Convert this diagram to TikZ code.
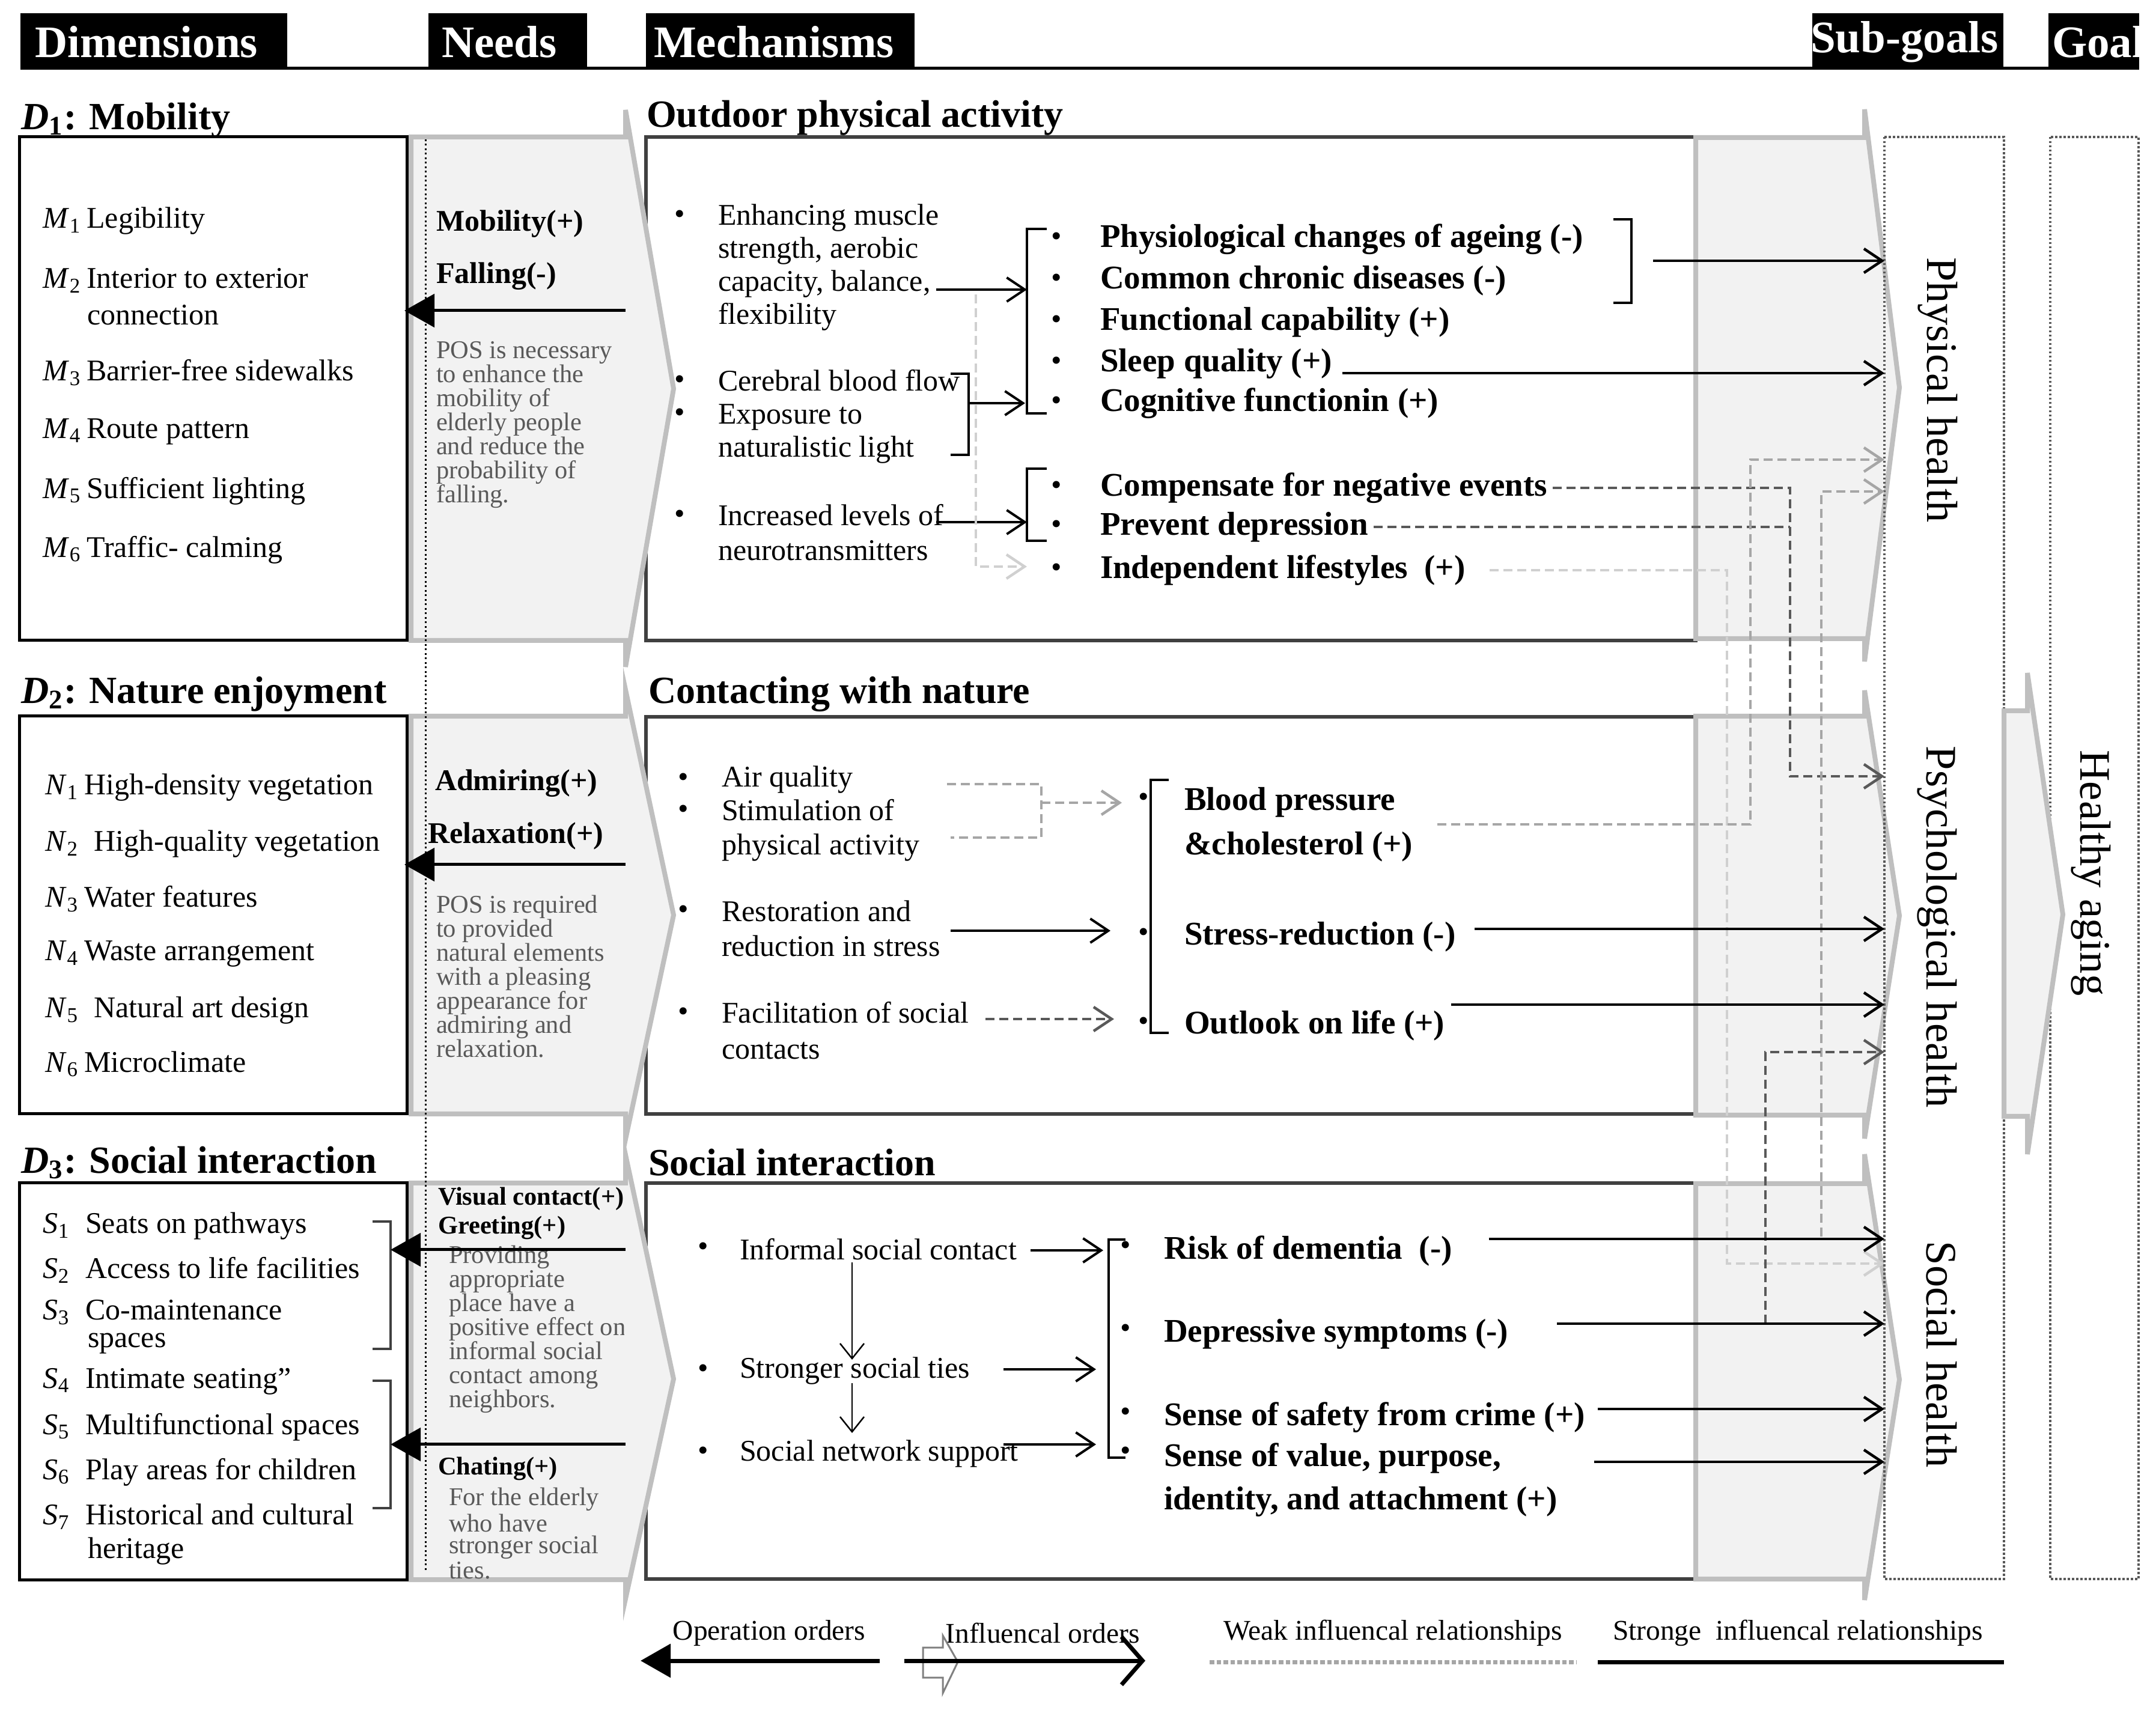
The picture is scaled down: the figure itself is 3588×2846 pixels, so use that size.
\documentclass[tikz,border=0pt]{standalone}
\usepackage{fontspec}
\setmainfont{Liberation Serif}
\usetikzlibrary{arrows.meta}
\definecolor{chevfill}{HTML}{F2F2F2}
\definecolor{chevline}{HTML}{BFBFBF}
\definecolor{boxline}{HTML}{404040}
\definecolor{darkd}{HTML}{595959}
\definecolor{medd}{HTML}{A6A6A6}
\definecolor{lightd}{HTML}{D0D0D0}
\definecolor{needtxt}{HTML}{595959}
\tikzset{
 T/.style={inner sep=0pt, anchor=west},
 dimtxt/.style={T, font=\fontsize{10}{12}\selectfont},
 ttl/.style={T, font=\fontsize{12.8}{14}\selectfont\bfseries},
 hdr/.style={T, font=\fontsize{15}{17}\selectfont\bfseries, text=white},
 needlbl/.style={T, font=\fontsize{10}{12}\selectfont\bfseries},
 needsm/.style={T, font=\fontsize{8.5}{10}\selectfont\bfseries},
 needgray/.style={inner sep=0pt, anchor=north west, align=left, text=needtxt, font=\fontsize{8.5}{8}\selectfont},
 mech/.style={inner sep=0pt, anchor=north west, align=left, font=\fontsize{10}{11}\selectfont},
 mtxt/.style={T, font=\fontsize{10}{12}\selectfont},
 outc/.style={T, font=\fontsize{11}{13}\selectfont\bfseries},
 bul/.style={inner sep=0pt, anchor=center, font=\fontsize{10}{12}\selectfont},
 vert/.style={inner sep=0pt, rotate=-90, font=\fontsize{14.5}{16}\selectfont},
 legtxt/.style={inner sep=0pt, font=\fontsize{9.5}{11}\selectfont},
 dbox/.style={draw=black, line width=1pt},
 mbox/.style={draw=boxline, line width=1.1pt},
 chev/.style={fill=chevfill, draw=chevline, line width=1.6pt, line join=miter},
 dotbox/.style={draw=darkd, line width=0.7pt, dash pattern=on 0.7pt off 0.7pt},
 opar/.style={line width=1pt, -{Triangle[length=10pt,width=11pt]}},
 barb/.style={-{Straight Barb[length=6pt,width=8pt]}},
 conn/.style={line width=0.9pt, barb},
 inar/.style={line width=0.8pt, barb},
 thinar/.style={line width=0.5pt, -{Straight Barb[length=5pt,width=8pt]}},
 wdark/.style={draw=darkd, line width=0.9pt, dash pattern=on 3pt off 1.6pt},
 wmed/.style={draw=medd, line width=0.9pt, dash pattern=on 3pt off 1.6pt},
 wlight/.style={draw=lightd, line width=0.9pt, dash pattern=on 3pt off 1.6pt},
 brk/.style={line width=0.9pt},
}
\begin{document}
\begin{tikzpicture}[x=0.2pt,y=-0.2pt]
\useasboundingbox[fill=white] (0,0) rectangle (3588,2846);

% ---------- header ----------
\fill (34,22) rectangle (478,113);
\fill (713,22) rectangle (977,113);
\fill (1075,22) rectangle (1522,113);
\fill (3016,22) rectangle (3334,113);
\fill (3409,22) rectangle (3560,113);
\draw[line width=1pt] (34,114) -- (3560,114);
\node[hdr] (hDim) at (57,70) {Dimensions};
\node[hdr] (hNeed) at (734,70) {Needs};
\node[hdr] (hMech) at (1087,70) {Mechanisms};
\node[hdr] (hSub) at (3012,70) {Sub-goals};
\node[hdr] (hGoal) at (3414,70) {Goal};

% ---------- mechanism boxes ----------
\draw[mbox] (1075,228) rectangle (2822,1066);
\draw[mbox] (1075,1193) rectangle (2822,1854);
\draw[mbox] (1075,1969) rectangle (2822,2628);

% ---------- needs chevrons ----------
\draw[chev] (684,228) -- (1041,228) -- (1041,183) -- (1121,647) -- (1041,1110) -- (1041,1066) -- (684,1066) -- cycle;
\draw[chev] (684,1192) -- (1041,1192) -- (1041,1148) -- (1121,1523) -- (1041,1896) -- (1041,1854) -- (684,1854) -- cycle;
\draw[chev] (684,1969) -- (1041,1969) -- (1041,1922) -- (1121,2295) -- (1041,2661) -- (1041,2629) -- (684,2629) -- cycle;

% ---------- dimension boxes ----------
\draw[dbox] (32,228) rectangle (677,1066);
\draw[dbox] (32,1192) rectangle (677,1854);
\draw[dbox] (32,1969) rectangle (677,2629);

% ---------- sub-goal chevrons ----------
\draw[chev] (2822,229) -- (3103,229) -- (3103,182) -- (3161,645) -- (3103,1101) -- (3103,1063) -- (2822,1063) -- cycle;
\draw[chev] (2822,1192) -- (3103,1192) -- (3103,1149) -- (3161,1524) -- (3103,1895) -- (3103,1856) -- (2822,1856) -- cycle;
\draw[chev] (2822,1970) -- (3103,1970) -- (3103,1921) -- (3161,2296) -- (3103,2663) -- (3103,2628) -- (2822,2628) -- cycle;

% ---------- dotted boxes and goal chevron ----------
\draw[dotbox] (3136,228) rectangle (3335,2628);
\draw[dotbox] (3412,228) rectangle (3559,2628);
\draw[chev] (3335,1183) -- (3374,1183) -- (3374,1120) -- (3433,1522) -- (3374,1921) -- (3374,1858) -- (3335,1858) -- cycle;
\draw[draw=black, line width=0.6pt, dash pattern=on 0.6pt off 0.9pt] (708,232) -- (708,2617);

% ---------- titles ----------
\node[ttl] (d1t) at (34,200) {\textit{D}\textsubscript{1}: Mobility};
\node[ttl] (m1t) at (1075,196) {Outdoor physical activity};
\node[ttl] (d2t) at (34,1155) {\textit{D}\textsubscript{2}: Nature enjoyment};
\node[ttl] (m2t) at (1078,1155) {Contacting with nature};
\node[ttl] (d3t) at (34,1935) {\textit{D}\textsubscript{3}: Social interaction};
\node[ttl] (m3t) at (1078,1935) {Social interaction};

% ---------- dimension items ----------
\node[dimtxt] (dm1) at (71,368) {\textit{M}\textsubscript{1}\,Legibility};
\node[dimtxt] (dm2) at (71,467) {\textit{M}\textsubscript{2}\,Interior to exterior};
\node[dimtxt] (dm2b) at (144,524) {connection};
\node[dimtxt] (dm3) at (71,620) {\textit{M}\textsubscript{3}\,Barrier-free sidewalks};
\node[dimtxt] (dm4) at (71,718) {\textit{M}\textsubscript{4}\,Route pattern};
\node[dimtxt] (dm5) at (71,817) {\textit{M}\textsubscript{5}\,Sufficient lighting};
\node[dimtxt] (dm6) at (71,915) {\textit{M}\textsubscript{6}\,Traffic- calming};

\node[dimtxt] (dn1) at (75,1311) {\textit{N}\textsubscript{1}\,High-density vegetation};
\node[dimtxt] (dn2) at (75,1405) {\textit{N}\textsubscript{2}\enspace High-quality vegetation};
\node[dimtxt] (dn3) at (75,1496) {\textit{N}\textsubscript{3}\,Water features};
\node[dimtxt] (dn4) at (75,1588) {\textit{N}\textsubscript{4}\,Waste arrangement};
\node[dimtxt] (dn5) at (75,1682) {\textit{N}\textsubscript{5}\enspace Natural art design};
\node[dimtxt] (dn6) at (75,1771) {\textit{N}\textsubscript{6}\,Microclimate};

\node[dimtxt] (ds1) at (71,2041) {\textit{S}\textsubscript{1}\enspace Seats on pathways};
\node[dimtxt] (ds2) at (71,2114) {\textit{S}\textsubscript{2}\enspace Access to life facilities};
\node[dimtxt] (ds3) at (71,2184) {\textit{S}\textsubscript{3}\enspace Co-maintenance};
\node[dimtxt] (ds3b) at (145,2236) {spaces};
\node[dimtxt] (ds4) at (71,2299) {\textit{S}\textsubscript{4}\enspace Intimate seating''};
\node[dimtxt] (ds5) at (71,2375) {\textit{S}\textsubscript{5}\enspace Multifunctional spaces};
\node[dimtxt] (ds6) at (71,2450) {\textit{S}\textsubscript{6}\enspace Play areas for children};
\node[dimtxt] (ds7) at (71,2524) {\textit{S}\textsubscript{7}\enspace Historical and cultural};
\node[dimtxt] (ds7b) at (145,2582) {heritage};
\draw[brk, draw=boxline] (620,2033) -- (650,2033) -- (650,2245) -- (620,2245);
\draw[brk, draw=boxline] (620,2298) -- (650,2298) -- (650,2510) -- (620,2510);

% ---------- needs ----------
\node[needlbl] (nd1a) at (725,373) {Mobility(+)};
\node[needlbl] (nd1b) at (725,460) {Falling(-)};
\node[needgray] (nd1t) at (725,567) {POS is necessary\\to enhance the\\mobility of\\elderly people\\and reduce the\\probability of\\falling.};
\node[needlbl] (nd2a) at (723,1304) {Admiring(+)};
\node[needlbl] (nd2b) at (711,1391) {Relaxation(+)};
\node[needgray] (nd2t) at (725,1489) {POS is required\\to provided\\natural elements\\with a pleasing\\appearance for\\admiring and\\relaxation.};
\node[needsm] (nd3a) at (728,1995) {Visual contact(+)};
\node[needsm] (nd3b) at (728,2043) {Greeting(+)};
\begin{scope}
\clip (740,2060) rectangle (1038,2360);
\node[needgray] (nd3t) at (746,2072) {Providing\\appropriate\\place have a\\positive effect on\\informal social\\contact among\\neighbors.};
\end{scope}
\node[needsm] (nd3c) at (728,2444) {Chating(+)};
\node[needgray, font=\fontsize{8.5}{7.2}\selectfont] (nd3u) at (746,2475) {For the elderly\\who have\\stronger social\\ties.};

\draw[opar] (1041,517) -- (673,517);
\draw[opar] (1041,1439) -- (673,1439);
\draw[opar] (1041,2080) -- (650,2080);
\draw[opar] (1041,2404) -- (650,2404);

% ---------- mechanisms 1 ----------
\node[bul] (b11) at (1131,361) {•};
\node[bul] (b12) at (1131,636) {•};
\node[bul] (b13) at (1131,691) {•};
\node[bul] (b14) at (1131,860) {•};
\node[mech] (mA) at (1194,339) {Enhancing muscle\\strength, aerobic\\capacity, balance,\\flexibility};
\node[mech] (mB) at (1194,614) {Cerebral blood flow\\Exposure to\\naturalistic light};
\node[mech, font=\fontsize{10}{11.6}\selectfont] (mC) at (1194,838) {Increased levels of\\neurotransmitters};

\foreach \yy/\nm in {398/o1,467/o2,536/o3,605/o4,671/o5,812/o6,877/o7,949/o8}
  \node[bul] (bu\nm) at (1758,\yy) {•};
\node[outc] (o1) at (1830,398) {Physiological changes of ageing (-)};
\node[outc] (o2) at (1830,467) {Common chronic diseases (-)};
\node[outc] (o3) at (1830,536) {Functional capability (+)};
\node[outc] (o4) at (1830,605) {Sleep quality (+)};
\node[outc] (o5) at (1830,671) {Cognitive functionin (+)};
\node[outc] (o6) at (1830,812) {Compensate for negative events};
\node[outc] (o7) at (1830,877) {Prevent depression};
\node[outc] (o8) at (1830,949) {Independent lifestyles\enspace(+)};

\draw[brk] (1742,381) -- (1709,381) -- (1709,688) -- (1742,688);
\draw[brk] (1742,780) -- (1709,780) -- (1709,900) -- (1742,900);
\draw[brk] (1582,622) -- (1612,622) -- (1612,757) -- (1582,757);
\draw[brk] (2685,365) -- (2715,365) -- (2715,504) -- (2685,504);
\coordinate (aflex) at (1558,482);
\coordinate (abr1) at (1709,482);
\coordinate (acer) at (1612,671);
\coordinate (abr1b) at (1706,671);
\coordinate (aneu) at (1558,869);
\coordinate (abr2) at (1709,869);
\draw[inar] (aflex) -- (abr1);
\draw[inar] (acer) -- (abr1b);
\draw[inar] (aneu) -- (abr2);
\draw[wlight, barb] (1624,490) |- (1709,943);

% ---------- mechanisms 2 ----------
\node[bul] (b21) at (1137,1298) {•};
\node[bul] (b22) at (1137,1351) {•};
\node[bul] (b23) at (1137,1518) {•};
\node[bul] (b24) at (1137,1688) {•};
\node[mtxt] (nA) at (1200,1298) {Air quality};
\node[mech, font=\fontsize{10}{11.4}\selectfont] (nB) at (1200,1329) {Stimulation of\\physical activity};
\node[mech, font=\fontsize{10}{11.6}\selectfont] (nC) at (1200,1498) {Restoration and\\reduction in stress};
\node[mech, font=\fontsize{10}{12}\selectfont] (nD) at (1200,1666) {Facilitation of social\\contacts};

\node[bul] (b25) at (1903,1331) {•};
\node[bul] (b26) at (1903,1556) {•};
\node[bul] (b27) at (1903,1704) {•};
\node[outc, anchor=north west, align=left, font=\fontsize{11}{14.8}\selectfont\bfseries] (p1) at (1970,1309) {Blood pressure\\\&cholesterol (+)};
\node[outc] (p2) at (1970,1559) {Stress-reduction (-)};
\node[outc] (p3) at (1970,1707) {Outlook on life (+)};
\draw[brk] (1945,1298) -- (1915,1298) -- (1915,1719) -- (1945,1719);
\draw[wmed] (1576,1305) -- (1733,1305) -- (1733,1394) -- (1582,1394);
\draw[wmed, barb] (1733,1336) -- (1867,1336);
\draw[inar] (1582,1549) -- (1848,1549);
\draw[wdark, barb] (1640,1696) -- (1854,1696);

% ---------- mechanisms 3 ----------
\node[bul] (b31) at (1170,2079) {•};
\node[bul] (b32) at (1170,2282) {•};
\node[bul] (b33) at (1170,2419) {•};
\node[mtxt] (q1) at (1230,2079) {Informal social contact};
\node[mtxt] (q2) at (1230,2282) {Stronger social ties};
\node[mtxt] (q3) at (1230,2419) {Social network support};
\draw[thinar] (1418,2101) -- (1418,2263);
\draw[thinar] (1418,2302) -- (1418,2385);
\draw[inar] (1715,2081) -- (1836,2081);
\draw[inar] (1670,2279) -- (1824,2279);
\draw[inar] (1670,2404) -- (1824,2404);
\draw[brk] (1873,2063) -- (1845,2063) -- (1845,2426) -- (1873,2426);

\node[bul] (b34) at (1873,2077) {•};
\node[bul] (b35) at (1873,2215) {•};
\node[bul] (b36) at (1873,2354) {•};
\node[bul] (b37) at (1873,2419) {•};
\node[outc] (r1) at (1936,2082) {Risk of dementia\enspace(-)};
\node[outc] (r2) at (1936,2220) {Depressive symptoms (-)};
\node[outc] (r3) at (1936,2359) {Sense of safety from crime (+)};
\node[outc, anchor=north west, align=left, font=\fontsize{11}{14.4}\selectfont\bfseries] (r4) at (1936,2401) {Sense of value, purpose,\\identity, and attachment (+)};

% ---------- vertical labels ----------
\node[vert] (vPhys) at (3225,649) {Physical health};
\node[vert] (vPsy) at (3224,1543) {Psychological health};
\node[vert] (vSoc) at (3231,2254) {Social health};
\node[vert] (vGoal) at (3480,1453) {Healthy aging};

% ---------- targets ----------
\coordinate (t1) at (3136,434);
\coordinate (t2) at (3136,621);
\coordinate (t3) at (3136,765);
\coordinate (t4) at (3136,818);
\coordinate (t5) at (3136,1292);
\coordinate (t6) at (3136,1546);
\coordinate (t7) at (3136,1672);
\coordinate (t8) at (3136,1751);
\coordinate (t9) at (3136,2062);
\coordinate (t10) at (3136,2103);
\coordinate (t11) at (3136,2203);
\coordinate (t12) at (3136,2345);
\coordinate (t13) at (3136,2433);
\coordinate (jc) at (2979,1292);
\coordinate (ji) at (2874,2103);
\coordinate (jb) at (2913,765);
\coordinate (jr) at (3031,2058);
\coordinate (jd) at (2938,2203);
\coordinate (rb1) at (2751,434);

% ---------- weak links ----------
\draw[wdark, barb] ([xshift=1.6pt]o6.east) -| (jc) -- (t5);
\draw[wdark] ([xshift=1.6pt]o7.east) -- (o7.east -| jc);
\draw[wlight, barb] ([xshift=8pt]o8.east) -| (ji) -- (t10);
\draw[wmed, barb] ([xshift=8pt]p1.east) -| (jb) -- (t3);
\draw[wmed, barb] (jr) |- (t4);
\draw[wdark, barb] (jd) |- (t8);

% ---------- strong links ----------
\draw[conn] (rb1) -- (t1);
\draw[conn] (o4.east |- t2) ++(16,0) -- (t2);
\draw[conn] (p2.east |- t6) ++(30,0) -- (t6);
\draw[conn] (p3.east |- t7) ++(10,0) -- (t7);
\draw[conn] (r1.east |- t9) ++(60,0) -- (t9);
\draw[conn] (r2.east |- t11) ++(80,0) -- (t11);
\draw[conn] (r3.east |- t12) ++(20,0) -- (t12);
\draw[conn] (r4.east |- t13) ++(60,0) -- (t13);

% ---------- legend ----------
\node[legtxt] (lg1) at (1280,2718) {Operation orders};
\draw[opar, line width=1.4pt] (1464,2764) -- (1066,2764);
\node[legtxt] (lg2) at (1735,2718) {Influencal orders};
\draw[draw=gray, fill=white, line width=0.6pt] (1536,2742) -- (1569,2742) -- (1569,2722) -- (1594,2766) -- (1569,2818) -- (1569,2792) -- (1536,2792) -- cycle;
\draw[line width=1.4pt, -{Straight Barb[length=7pt,width=16pt]}] (1505,2764) -- (1906,2764);
\node[legtxt] (lg3) at (2318,2718) {Weak influencal relationships};
\draw[draw=medd, line width=1.4pt, dash pattern=on 1.5pt off 0.8pt] (2013,2766) -- (2624,2766);
\node[legtxt] (lg4) at (2992,2718) {Stronge\ \ influencal relationships};
\draw[line width=1.4pt] (2659,2766) -- (3335,2766);
\end{tikzpicture}
\end{document}
